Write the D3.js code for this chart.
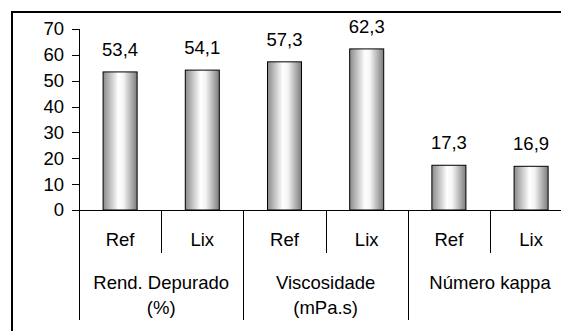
<!DOCTYPE html>
<html>
  <head>
    <meta charset="utf-8">
    <style>
        body { margin: 0; background: #fff; }
        text { font-family: "Liberation Sans", Arial, sans-serif; fill: #000; }
        .axis path, .axis line { stroke: #000; stroke-width: 1px; shape-rendering: crispEdges; }
    </style>
  </head>
  <body>
    <div id="chart"></div>
    <script src="https://d3js.org/d3.v7.min.js"></script>
    <script>
        // data
        var groups = [["Rend. Depurado", "(%)"], ["Viscosidade", "(mPa.s)"], ["Número kappa"]];
        var series = ["Ref", "Lix"];
        var values = [53.4, 54.1, 57.3, 62.3, 17.3, 16.9];
        var yTicks = [0, 10, 20, 30, 40, 50, 60, 70];

        var W = 561, H = 331;
        var fs = 18.5;

        var svg = d3.select("#chart").append("svg")
            .attr("width", W)
            .attr("height", H);

        // cylinder-ish gradient of the bars
        var grad = svg.append("defs").append("linearGradient")
            .attr("id", "barGrad")
            .attr("x1", "0%").attr("x2", "100%").attr("y1", "0%").attr("y2", "0%");
        grad.append("stop").attr("offset", "0%").attr("stop-color", "#8a8a8a");
        grad.append("stop").attr("offset", "45%").attr("stop-color", "#ffffff");
        grad.append("stop").attr("offset", "60%").attr("stop-color", "#f4f4f4");
        grad.append("stop").attr("offset", "100%").attr("stop-color", "#7c7c7c");

        // outer frame (cut on the right and bottom, like the picture)
        svg.append("path")
            .attr("d", "M12,331V12H561")
            .attr("fill", "none")
            .attr("stroke", "#000")
            .attr("stroke-width", 2);

        var leaves = [];
        groups.forEach(function(g, gi) {
            series.forEach(function(s, si) {
                leaves.push({ key: gi + "-" + s, group: gi, name: s, value: values[gi * series.length + si] });
            });
        });

        var x0 = 79, step = 82.2;
        var x = d3.scaleBand()
            .domain(leaves.map(function(d) { return d.key; }))
            .range([x0, x0 + step * leaves.length])
            .paddingInner(0.586)
            .paddingOuter(0.293);

        var y = d3.scaleLinear()
            .domain([0, 70])
            .range([210, 29]);

        var yAxis = svg.append("g")
            .attr("class", "axis")
            .attr("transform", "translate(" + x0 + ",0)")
            .call(d3.axisLeft(y).tickValues(yTicks).tickSize(7).tickPadding(8).tickSizeOuter(7));
        yAxis.selectAll("text").style("font-size", fs + "px");

        // bars
        svg.append("g").selectAll("rect")
            .data(leaves)
            .enter()
            .append("rect")
              .attr("x", function(d) { return x(d.key); })
              .attr("y", function(d) { return y(d.value); })
              .attr("width", x.bandwidth())
              .attr("height", function(d) { return y(0) - y(d.value); })
              .attr("fill", "url(#barGrad)")
              .attr("stroke", "#000")
              .attr("stroke-width", 1);

        var fmt = d3.format(".1f");
        svg.append("g").selectAll("text")
            .data(leaves)
            .enter()
            .append("text")
              .attr("x", function(d) { return x(d.key) + x.bandwidth() / 2; })
              .attr("y", function(d) { return y(d.value) - 16; })
              .attr("text-anchor", "middle")
              .style("font-size", fs + "px")
              .text(function(d) { return fmt(d.value).replace(".", ","); });

        // x axis line
        svg.append("line")
            .attr("x1", x0).attr("x2", W)
            .attr("y1", y(0)).attr("y2", y(0))
            .attr("stroke", "#000")
            .attr("shape-rendering", "crispEdges");

        // separators between leaves (short) and groups (long)
        var bounds = d3.range(leaves.length + 1);
        svg.append("g").selectAll("line")
            .data(bounds)
            .enter()
            .append("line")
              .attr("x1", function(i) { return Math.round(x0 + i * step) + 0.5; })
              .attr("x2", function(i) { return Math.round(x0 + i * step) + 0.5; })
              .attr("y1", y(0))
              .attr("y2", function(i) { return i % series.length === 0 ? 320 : 253; })
              .attr("stroke", "#000");

        // leaf labels
        svg.append("g").selectAll("text")
            .data(leaves)
            .enter()
            .append("text")
              .attr("x", function(d) { return x(d.key) + x.bandwidth() / 2; })
              .attr("y", 246)
              .attr("text-anchor", "middle")
              .style("font-size", fs + "px")
              .text(function(d) { return d.name; });

        // group labels
        var gl = svg.append("g").selectAll("text")
            .data(groups)
            .enter()
            .append("text")
              .attr("x", function(d, i) { return x0 + step * series.length * (i + 0.5); })
              .attr("y", 289)
              .attr("text-anchor", "middle")
              .style("font-size", fs + "px");
        gl.selectAll("tspan")
            .data(function(d) { return d; })
            .enter()
            .append("tspan")
              .attr("x", function() { return d3.select(this.parentNode).attr("x"); })
              .attr("dy", function(d, i) { return i === 0 ? 0 : 25; })
              .text(function(d) { return d; });
    </script>
  </body>
</html>
